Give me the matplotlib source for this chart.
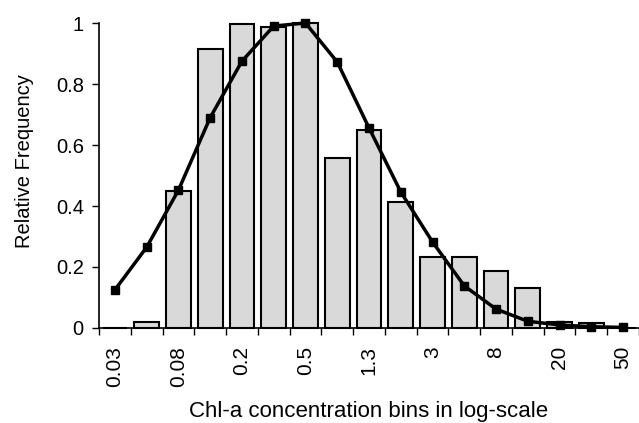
import numpy as np
import matplotlib
matplotlib.use("Agg")
import matplotlib.pyplot as plt

plt.rcParams['font.family'] = ['Liberation Sans', 'DejaVu Sans']

# bins (17 log-scale bins, every other one labelled)
tick_labels = ["0.03", "0.08", "0.2", "0.5", "1.3", "3", "8", "20", "50"]
bar_freq = [0.0, 0.02, 0.45, 0.915, 0.997, 0.987, 1.0, 0.557, 0.65,
            0.414, 0.232, 0.232, 0.187, 0.132, 0.02, 0.015, 0.0]
line_freq = [0.125, 0.265, 0.452, 0.69, 0.875, 0.99, 1.0, 0.872, 0.656,
             0.446, 0.282, 0.138, 0.062, 0.022, 0.01, 0.004, 0.002]

x = np.arange(len(bar_freq))

fig = plt.figure(figsize=(6.39, 4.23), dpi=100)
ax = fig.add_axes([0.155, 0.2246, 0.845, 0.721])

ax.bar(x, bar_freq, width=0.78, color='#d9d9d9', edgecolor='black',
       linewidth=1.5, clip_on=False, zorder=2)
ax.plot(x, line_freq, color='black', linewidth=2.5, marker='s', markersize=6,
        clip_on=False, zorder=3)

ax.set_xlim(-0.5, 16.25)
ax.set_ylim(0, 1)
ax.set_yticks([0, 0.2, 0.4, 0.6, 0.8, 1.0])
ax.set_yticklabels(["0", "0.2", "0.4", "0.6", "0.8", "1"], fontsize=14.5)

ax.set_xticks(x[::2])
ax.set_xticklabels(tick_labels, rotation=90, fontsize=15)
ax.tick_params(axis='x', length=0, pad=13)
ax.set_xticks(np.arange(-0.5, 16.6, 1), minor=True)
ax.tick_params(axis='x', which='minor', length=5, direction='out', width=1)
ax.tick_params(axis='y', length=5, direction='out', width=1, pad=6)

for s in ['top', 'right']:
    ax.spines[s].set_visible(False)
ax.spines['left'].set_linewidth(1.2)
ax.spines['bottom'].set_linewidth(1.2)

ax.set_ylabel("Relative Frequency", fontsize=14.5)
ax.yaxis.set_label_coords(-0.12, 0.548)
ax.set_xlabel("Chl-a concentration bins in log-scale", fontsize=16, labelpad=10)

fig.savefig("out.png", dpi=100)
